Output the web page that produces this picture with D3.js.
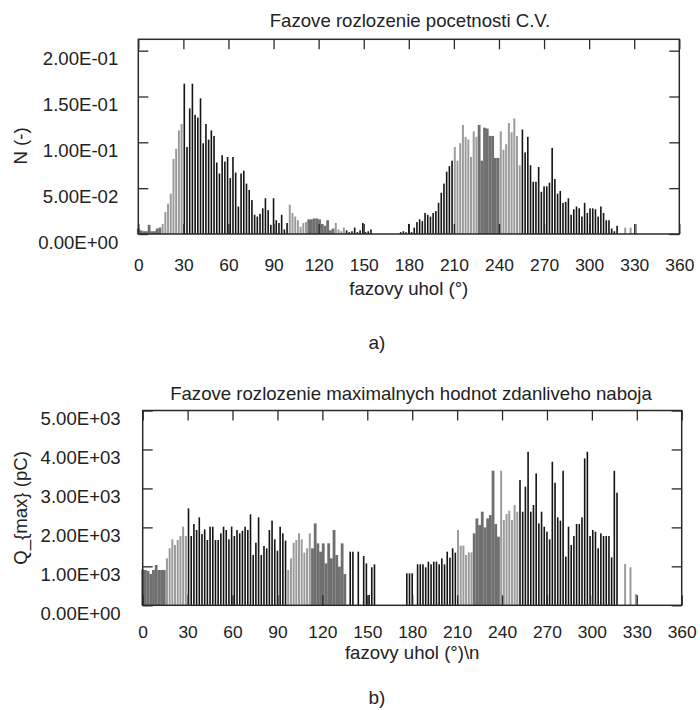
<!DOCTYPE html>
<html lang="en">
  <head>
    <meta charset="utf-8">
    <script src="https://cdn.jsdelivr.net/npm/d3@7"></script>
    <style>
      body { margin: 0; background: #fff; }
      text { font-family: "Liberation Sans", Arial, sans-serif; fill: #222; }
    </style>
  </head>
  <body>
    <script>
      // phase bins are 1.8 deg wide
      const phaseStep = 1.8
      const phaseTicks = d3.range(0, 361, 30)

      // panel a) - count of PD pulses per phase bin, N (-)
      const countValues = [
        0.006,0.004,0.003,0.003,0.010,0.003,0.003,0.006,0.007,0.011,
        0.024,0.033,0.044,0.082,0.093,0.113,0.120,0.164,0.095,0.137,
        0.164,0.130,0.127,0.148,0.099,0.120,0.103,0.113,0.107,0.078,
        0.066,0.086,0.079,0.084,0.061,0.084,0.067,0.030,0.066,0.069,
        0.055,0.048,0.037,0.021,0.019,0.022,0.028,0.039,0.026,0.010,
        0.039,0.015,0.012,0.021,0.005,0.012,0.032,0.023,0.019,0.015,
        0.008,0.012,0.013,0.016,0.016,0.017,0.017,0.016,0.011,0.009,
        0.015,0.004,0.006,0.012,0.005,0.003,0.007,0.004,0.002,0.003,
        0.007,0.002,0.004,0.012,0.002,0.003,0.005,0,0,0,
        0,0,0,0,0,0,0,0.002,0.003,0.002,
        0.011,0.002,0.007,0.013,0.016,0.014,0.023,0.021,0.019,0.023,
        0.025,0.034,0.045,0.055,0.068,0.074,0.080,0.095,0.080,0.099,
        0.119,0.106,0.103,0.084,0.112,0.106,0.119,0.080,0.116,0.115,
        0.107,0.107,0.083,0.083,0.112,0.092,0.098,0.121,0.111,0.126,
        0.107,0.075,0.114,0.089,0.106,0.075,0.057,0.057,0.073,0.046,
        0.052,0.052,0.056,0.094,0.060,0.044,0.047,0.034,0.035,0.039,
        0.021,0.027,0.030,0.028,0.019,0.034,0.023,0.028,0.028,0.027,
        0.019,0.030,0.023,0.015,0.015,0.006,0.003,0.009,0,0,
        0.007,0,0.007,0,0.011
      ]
      const countTicks = [0, 0.05, 0.1, 0.15, 0.2]
      // phase ranges [from, to) and which data series they belong to
      const countGroups = [
        [0, 15.5, 'mid'], [15.5, 29.7, 'light'], [29.7, 100, 'dark'],
        [100, 112.5, 'light'], [112.5, 130, 'mid'], [130, 137, 'light'],
        [137, 210, 'dark'], [210, 226, 'light'], [226, 240, 'mid'],
        [240, 254.5, 'light'], [254.5, 320, 'dark'], [320, 361, 'light']
      ]

      // panel b) - maximum apparent charge per phase bin, Q_max (pC)
      const chargeValues = [
        923,906,880,804,906,1035,906,906,906,1205,
        1462,1693,1548,1676,1778,2018,1778,2488,1778,2086,
        1932,2257,1830,1949,1676,2018,2018,1676,1676,1847,
        2018,1932,1693,2018,1778,1932,1847,1915,2018,1932,
        2334,1291,1607,2257,1291,1522,1462,1932,2172,1693,
        1402,2018,1847,1659,906,1205,1607,1676,1847,1693,
        1351,1462,1847,1462,2103,1590,1376,1590,1077,1590,
        1205,1932,1291,992,1590,804,0,1376,1376,0,
        1376,0,1265,1077,265,975,1052,0,0,0,
        0,0,0,0,0,0,0,0,821,821,
        821,0,1052,1052,1052,975,1120,1052,1120,1120,
        1052,1205,1052,1376,1222,1462,1351,1932,1530,1530,
        1291,1359,1359,1847,2231,2060,2402,2000,2231,2317,
        3454,2086,1761,3454,2189,2343,2428,2189,2574,2402,
        3215,2402,3044,3941,2402,2574,3386,2103,2402,2018,
        1890,1693,3685,3146,2257,2172,3454,1248,2018,1548,
        1778,2086,2086,2257,3770,3941,1778,1932,1890,1462,
        1847,1778,1778,1778,1231,3454,2890,0,0,1060,
        0,975,0,291
      ]
      const chargeTicks = [0, 1000, 2000, 3000, 4000, 5000]
      const chargeGroups = [
        [0, 15.5, 'mid'], [15.5, 29.7, 'light'], [29.7, 96.5, 'dark'],
        [96.5, 113, 'light'], [113, 136, 'mid'], [136, 210, 'dark'],
        [210, 221, 'light'], [221, 238.5, 'mid'], [238.5, 251, 'light'],
        [251, 320, 'dark'], [320, 361, 'light']
      ]

      const w = 700
      const h = 710
      const fontSize = '18.6px'
      const tickFontSize = '17.4px'
      const color = d3.scaleOrdinal().domain(['light', 'mid', 'dark']).range(['#9c9c9c', '#6f6f6f', '#141414'])
      const barWidth = {light: 2.0, mid: 2.8, dark: 1.6}

      const svg = d3.select('body')
        .append('svg')
        .attr('width', w)
        .attr('height', h)

      function sci(v) {
        const parts = v.toExponential(2).split('e')
        const e = +parts[1]
        return parts[0] + 'E' + (e < 0 ? '-' : '+') + String(Math.abs(e)).padStart(2, '0')
      }

      function groupOf(groups, phase) {
        const g = groups.find(function(g) { return phase >= g[0] && phase < g[1] })
        return g ? g[2] : 'dark'
      }

      function drawPanel(p) {
        const x = d3.scaleLinear().domain([0, 360]).range([p.left, p.right])
        const y = d3.scaleLinear().domain([0, p.yMax]).range([p.bottom, p.top])
        const g = svg.append('g')

        const bars = p.values.map(function(v, i) {
          const phase = i * phaseStep
          return {phase: phase, value: v, series: groupOf(p.groups, phase)}
        }).filter(function(d) { return d.value > 0 })

        // mid grey first, so the thinner bars sit on top
        const order = {mid: 0, light: 1, dark: 2}
        bars.sort(function(a, b) { return order[a.series] - order[b.series] })

        g.selectAll('rect.bar')
          .data(bars)
          .enter()
          .append('rect')
          .attr('class', 'bar')
          .attr('x', function(d) { return x(d.phase) - barWidth[d.series] / 2 })
          .attr('width', function(d) { return barWidth[d.series] })
          .attr('y', function(d) { return y(d.value) })
          .attr('height', function(d) { return y(0) - y(d.value) })
          .style('fill', function(d) { return color(d.series) })

        // ticks, all pointing inwards
        const tickStyle = function(sel) {
          sel.select('.domain').remove()
          sel.selectAll('.tick line').style('stroke', '#2a2a2a').style('stroke-width', 1.3)
        }
        g.append('g')
          .attr('transform', 'translate(0,' + p.bottom + ')')
          .call(d3.axisBottom(x).tickValues(phaseTicks).tickSize(-10).tickPadding(p.xPad))
          .call(tickStyle)
          .selectAll('text')
          .style('font-size', tickFontSize)
          .style('font-family', '"Liberation Sans", Arial, sans-serif')
          .style('fill', '#222')
        g.append('g')
          .attr('transform', 'translate(0,' + p.top + ')')
          .call(d3.axisTop(x).tickValues(phaseTicks).tickSize(-10).tickFormat(''))
          .call(tickStyle)
        g.append('g')
          .attr('transform', 'translate(' + p.left + ',0)')
          .call(d3.axisLeft(y).tickValues(p.ticks).tickSize(-10).tickPadding(p.yPad).tickFormat(sci))
          .call(tickStyle)
          .selectAll('text')
          .attr('dy', '0.77em')
          .style('font-size', fontSize)
          .style('font-family', '"Liberation Sans", Arial, sans-serif')
          .style('fill', '#222')
        g.append('g')
          .attr('transform', 'translate(' + p.right + ',0)')
          .call(d3.axisRight(y).tickValues(p.ticks).tickSize(-10).tickFormat(''))
          .call(tickStyle)

        g.append('rect')
          .attr('x', p.left)
          .attr('y', p.top)
          .attr('width', p.right - p.left)
          .attr('height', p.bottom - p.top)
          .style('fill', 'none')
          .style('stroke', '#2a2a2a')
          .style('stroke-width', 1.5)

        g.append('text')
          .attr('x', p.titleX)
          .attr('y', p.titleY)
          .attr('text-anchor', 'middle')
          .style('font-size', fontSize)
          .text(p.title)
        g.append('text')
          .attr('x', (p.left + p.right) / 2)
          .attr('y', p.xLabelY)
          .attr('text-anchor', 'middle')
          .style('font-size', fontSize)
          .text(p.xLabel)
        g.append('text')
          .attr('transform', 'translate(27,' + p.yLabelY + ') rotate(-90)')
          .attr('text-anchor', 'middle')
          .style('font-size', fontSize)
          .text(p.yLabel)
        g.append('text')
          .attr('x', 377)
          .attr('y', p.tagY)
          .attr('text-anchor', 'middle')
          .style('font-size', '19px')
          .text(p.tag)
      }

      drawPanel({
        values: countValues, groups: countGroups, ticks: countTicks, yMax: 0.2124,
        left: 138.3, right: 679.3, top: 39.3, bottom: 234, xPad: 25, yPad: 20,
        title: 'Fazove rozlozenie pocetnosti C.V.', titleX: 410, titleY: 27,
        xLabel: 'fazovy uhol (°)', xLabelY: 295,
        yLabel: 'N (-)', yLabelY: 146,
        tag: 'a)', tagY: 349
      })

      drawPanel({
        values: chargeValues, groups: chargeGroups, ticks: chargeTicks, yMax: 5000,
        left: 142.7, right: 681.7, top: 410.5, bottom: 605.3, xPad: 20, yPad: 22,
        title: 'Fazove rozlozenie maximalnych hodnot zdanliveho naboja', titleX: 411, titleY: 400,
        xLabel: 'fazovy uhol (°)\\n', xLabelY: 659,
        yLabel: 'Q_{max} (pC)', yLabelY: 508,
        tag: 'b)', tagY: 704
      })
    </script>
  </body>
</html>
